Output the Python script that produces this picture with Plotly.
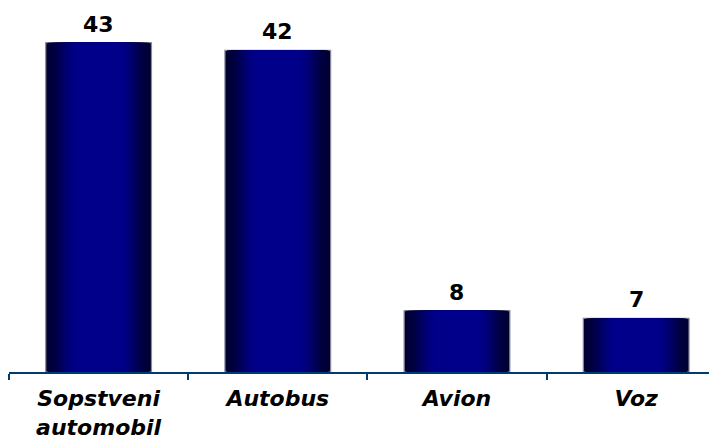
import plotly.graph_objects as go

categories = ["Sopstveni<br>automobil", "Autobus", "Avion", "Voz"]
values = [43, 42, 8, 7]

BAR_W = 0.59
N_LAYERS = 26
DARK = (0, 0, 52)
BRIGHT = (0, 0, 138)

def smooth(t):
    t = max(0.0, min(1.0, t))
    return t * t * (3 - 2 * t)

fig = go.Figure()
for i in range(N_LAYERS):
    frac = 1 - i / N_LAYERS
    d = (1 - frac) / 2  # distance from edge as fraction of width
    f = smooth(d / 0.3)
    col = tuple(int(round(DARK[k] + (BRIGHT[k] - DARK[k]) * f)) for k in range(3))
    fig.add_trace(go.Bar(
        x=categories, y=values,
        width=BAR_W * frac,
        marker=dict(color="rgb(%d,%d,%d)" % col,
                    line=dict(color="#8a8a9a" if i == 0 else "rgba(0,0,0,0)",
                              width=1.2 if i == 0 else 0)),
        showlegend=False, hoverinfo="skip",
    ))

for c, v in zip(categories, values):
    fig.add_annotation(x=c, y=v, text=str(v), showarrow=False,
                       yanchor="bottom", yshift=4,
                       font=dict(family="DejaVu Sans", size=22, color="black", weight="bold"))

fig.update_layout(
    width=709, height=430,
    margin=dict(l=1, r=0, t=2, b=66, autoexpand=False),
    barmode="overlay",
    plot_bgcolor="white", paper_bgcolor="white",
    xaxis=dict(
        range=[-0.5, 3.451],
        showline=True, linecolor="#003a70", linewidth=2,
        ticks="outside", tickson="boundaries", ticklen=6, tickwidth=2, tickcolor="#003a70",
        tickfont=dict(family="DejaVu Sans", size=22, color="black", weight="bold", style="italic"),
        ticklabelstandoff=6,
        showgrid=False, zeroline=False, automargin=False,
    ),
    yaxis=dict(range=[0, 47.26], visible=False, showgrid=False, zeroline=False),
)

fig.write_html("out.html")
